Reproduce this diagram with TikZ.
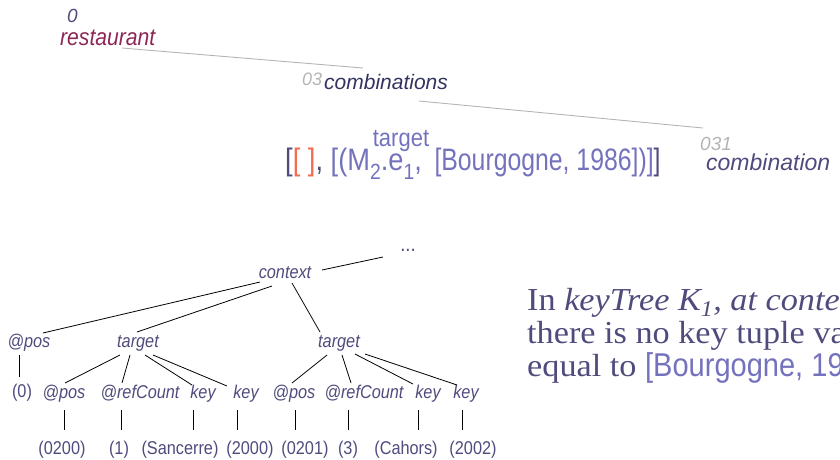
\documentclass[tikz,border=0pt]{standalone}
\usepackage{fontspec}
\setmainfont{Liberation Serif}
\newfontfamily\sfN[FakeStretch=0.88]{Liberation Sans}
\newfontfamily\sfC[FakeStretch=0.8]{Liberation Sans}
\newfontfamily\sfR{Liberation Sans}
\newfontfamily\serX[FakeStretch=1.07]{Liberation Serif}
\definecolor{txt}{HTML}{4F4B7D}
\definecolor{maroon}{HTML}{8C2756}
\definecolor{navy}{HTML}{33335F}
\definecolor{lgray}{HTML}{B4B4B4}
\definecolor{orng}{HTML}{F26B4F}
\definecolor{lav}{HTML}{7472BD}
\newcommand{\fsz}[1]{\fontsize{#1}{#1}\selectfont}
\newcommand{\subl}[1]{\raisebox{-9pt}{\fsz{22}#1}}
\tikzset{
  lbl/.style={anchor=base west, inner sep=0pt},
  tl/.style={anchor=base, inner sep=0pt, text=txt, font=\sfN\itshape\fsz{18.5}},
  tv/.style={anchor=base, inner sep=0pt, text=txt, font=\sfN\fsz{18.5}},
  tedge/.style={black, line width=0.8pt},
  gedge/.style={lgray, line width=0.9pt},
  rtext/.style={anchor=base west, inner sep=0pt, text=txt, font=\serX\fsz{32}}
}
\begin{document}
\begin{tikzpicture}[x=1pt,y=-1pt]
\useasboundingbox (0,0) rectangle (840,459);
% top chain
\node[lbl, text=txt, font=\sfR\itshape\fsz{19}] (n0) at (67,22) {0};
\node[lbl, text=maroon, font=\sfN\itshape\fsz{24}] (rest) at (60,45) {restaurant};
\node[lbl, text=lgray, font=\sfR\itshape\fsz{18}] (l03) at (302,85) {03};
\node[lbl, text=navy, font=\sfR\itshape\fsz{21}] (comb) at (324,89) {combinations};
\node[lbl, text=lgray, font=\sfR\itshape\fsz{19}] (l031) at (700,150) {031};
\node[lbl, text=txt, font=\sfR\itshape\fsz{23}] (comb1) at (706,170) {combination};
\draw[gedge] ([shift={(62,3)}]rest.base west) -- ([shift={(39,-21)}]comb.base west);
\draw[gedge] ([shift={(95,12)}]comb.base west) -- ([shift={(-3,-42)}]comb1.base west);
% bracket expression
\node[lbl, text=txt, font=\sfN\fsz{31}] (expr) at (285,170)
 {[{\color{orng}[\ ]},\ {\color{lav}[(M\subl{2}.e\subl{1},\ \hspace{5pt}{\sfC [Bourgogne, 1986])]}}{\sfC ]}};
\node[anchor=base, inner sep=0pt, text=lav, font=\sfN\fsz{25}] (tgt) at (401,146) {target};
% tree
\node[tv, font=\sfN\fsz{21}] (dots) at (408,251) {...};
\node[tl] (ctx) at (285,278) {context};
\node[tl] (p0) at (29,347) {@pos};
\node[tl] (t1) at (138,347) {target};
\node[tl] (t2) at (339,347) {target};
\node[tv] (v0) at (22,397) {(0)};
\node[tl] (a1) at (64,398) {@pos};
\node[tl] (a2) at (140,398) {@refCount};
\node[tl] (a3) at (203,398) {key};
\node[tl] (a4) at (246,398) {key};
\node[tl] (b1) at (294,398) {@pos};
\node[tl] (b2) at (364,398) {@refCount};
\node[tl] (b3) at (428,398) {key};
\node[tl] (b4) at (466,398) {key};
\node[tv] (c1) at (62,454) {(0200)};
\node[tv] (c2) at (119,454) {(1)};
\node[tv] (c3) at (180,454) {(Sancerre)};
\node[tv] (c4) at (250,454) {(2000)};
\node[tv] (d1) at (305,454) {(0201)};
\node[tv] (d2) at (348,454) {(3)};
\node[tv] (d3) at (406,454) {(Cahors)};
\node[tv] (d4) at (473,454) {(2002)};
\draw[tedge] ([shift={(37,-8)}]ctx.base) -- ([shift={(-25,6)}]dots.base);
\draw[tedge] ([shift={(-25,4)}]ctx.base) -- ([shift={(14,-14)}]p0.base);
\draw[tedge] ([shift={(-13,8)}]ctx.base) -- ([shift={(-1,-15)}]t1.base);
\draw[tedge] ([shift={(7,5)}]ctx.base) -- ([shift={(-19,-15)}]t2.base);
\draw[tedge] ([shift={(-10,8)}]p0.base) -- ([shift={(-3,-20)}]v0.base);
\draw[tedge] ([shift={(-18,8)}]t1.base) -- ([shift={(1,-15)}]a1.base);
\draw[tedge] ([shift={(-8,8)}]t1.base) -- ([shift={(-18,-15)}]a2.base);
\draw[tedge] ([shift={(7,8)}]t1.base) -- ([shift={(-11,-13)}]a3.base);
\draw[tedge] ([shift={(15,8)}]t1.base) -- ([shift={(-19,-12)}]a4.base);
\draw[tedge] ([shift={(-12,8)}]t2.base) -- ([shift={(-2,-15)}]b1.base);
\draw[tedge] ([shift={(3,8)}]t2.base) -- ([shift={(-13,-15)}]b2.base);
\draw[tedge] ([shift={(16,7)}]t2.base) -- ([shift={(-15,-14)}]b3.base);
\draw[tedge] ([shift={(26,7)}]t2.base) -- ([shift={(-9,-13)}]b4.base);
\draw[tedge] ([shift={(0,12)}]a1.base) -- ([shift={(2,-24)}]c1.base);
\draw[tedge] ([shift={(-19,12)}]a2.base) -- ([shift={(2,-24)}]c2.base);
\draw[tedge] ([shift={(-10,12)}]a3.base) -- ([shift={(13,-24)}]c3.base);
\draw[tedge] ([shift={(-9,12)}]a4.base) -- ([shift={(-13,-24)}]c4.base);
\draw[tedge] ([shift={(1,12)}]b1.base) -- ([shift={(-10,-24)}]d1.base);
\draw[tedge] ([shift={(-16,12)}]b2.base) -- ([shift={(0,-24)}]d2.base);
\draw[tedge] ([shift={(-10,12)}]b3.base) -- ([shift={(12,-24)}]d3.base);
\draw[tedge] ([shift={(-4,12)}]b4.base) -- ([shift={(-11,-24)}]d4.base);
% right text
\begin{scope}
\clip (0,0) rectangle (840,459);
\node[rtext] (r1) at (527,310) {In \textit{keyTree K\textsubscript{1}, at conte}};
\node[rtext] (r2) at (527,343) {there is no key tuple va};
\node[rtext] (r3) at (527,376) {equal to {\sfN\fsz{33}\color{lav}[Bourgogne, 19}};
\end{scope}
\end{tikzpicture}
\end{document}
